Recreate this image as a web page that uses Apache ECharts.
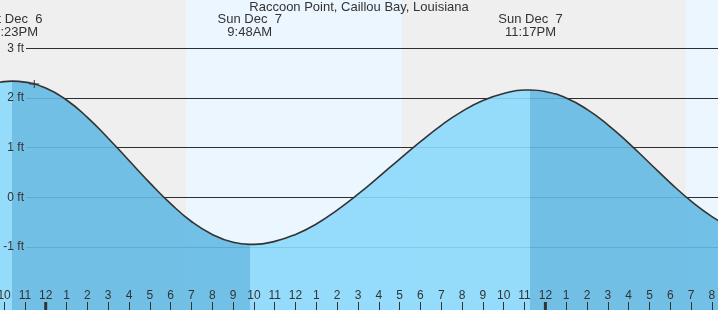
<!DOCTYPE html>
<html><head><meta charset="utf-8">
<script src="https://cdn.jsdelivr.net/npm/echarts@6/dist/echarts.min.js"></script>
<style>html,body{margin:0;padding:0;background:#efefef}#c{width:718px;height:310px}</style>
</head><body><div id="c"></div>
<script>
// ---- data (hours measured from midnight Sun Dec 7) ----
const stationName = 'Raccoon Point, Caillou Bay, Louisiana';
const hourlyTimes = [-3,-2,-1,0,1,2,3,4,5,6,7,8,9,10,11,12,13,14,15,16,17,18,19,20,21,22,23,24,25,26,27,28,29,30,31,32,33];
const hourlyFeet  = [2.25,2.33,2.32,2.20,1.96,1.61,1.19,0.74,0.29,-0.13,-0.49,-0.75,-0.91,-0.95,-0.89,-0.75,-0.54,-0.26,0.06,0.41,0.77,1.12,1.45,1.73,1.95,2.09,2.16,2.13,2.00,1.77,1.46,1.09,0.69,0.29,-0.08,-0.39,-0.63];
const extremeTimes = [-1.617, 9.8, 23.283];
const extremeFeet  = [2.34, -0.95, 2.16];
const extremeDates = ['Sat Dec  6', 'Sun Dec  7', 'Sun Dec  7'];
const extremeClock = ['10:23PM', '9:48AM', '11:17PM'];
const daylightStart = [6.74, 30.75];
const daylightEnd   = [17.11, 41];
const midnightTimes = [0, 24];
const feetTicks = [-1, 0, 1, 2, 3];
const nowTime = -0.55, nowFeet = 2.28;

// ---- build ----
const tideData = hourlyTimes.map((h, i) => [h, hourlyFeet[i]])
  .concat(extremeTimes.map((h, i) => [h, extremeFeet[i]]))
  .sort((a, b) => a[0] - b[0]);

const X_MIN = -3, X_MAX = 33;
const Y_MIN = -2.274, Y_MAX = 3.976;
const FALL = '#64bae4', RISE = '#8bd9fc';
const FONT = 'Liberation Sans';

const pieces = [];
let prev = -1000;
extremeTimes.forEach((t, i) => {
  const rising = extremeFeet[i] > 0;
  pieces.push({ gte: prev, lt: t, color: rising ? RISE : FALL });
  prev = t;
});
pieces.push({ gte: prev, lt: 1000, color: extremeFeet[extremeFeet.length - 1] > 0 ? FALL : RISE });

const chart = echarts.init(document.getElementById('c'), null, { renderer: 'canvas' });
chart.setOption({
  animation: false,
  backgroundColor: '#efefef',
  grid: [
    { left: -16.76, right: -14.76, top: 0, bottom: 0, containLabel: false, outerBoundsMode: 'none' },
    { left: 26, right: 0, top: 48.4, bottom: 63.2, containLabel: false, outerBoundsMode: 'none' }
  ],
  xAxis: [
    { type: 'value', gridIndex: 0, min: X_MIN, max: X_MAX, interval: 1, z: 5, position: 'bottom',
      axisLine: { show: false, onZero: false }, splitLine: { show: false },
      axisTick: { show: true, inside: true, length: 8, lineStyle: { color: '#333', width: 1 } },
      axisLabel: { inside: true, margin: 8, color: '#333', fontSize: 12, fontFamily: FONT,
        showMinLabel: true, showMaxLabel: true, hideOverlap: false,
        formatter: v => { const m = ((v % 12) + 12) % 12; return String(m === 0 ? 12 : m); } } },
    { type: 'value', gridIndex: 1, min: 0, max: 1, show: false }
  ],
  yAxis: [
    { type: 'value', gridIndex: 0, min: Y_MIN, max: Y_MAX, show: false },
    { type: 'value', gridIndex: 1, position: 'left', min: feetTicks[0], max: feetTicks[feetTicks.length - 1], interval: 1, z: 1,
      axisLine: { show: false, onZero: false }, axisTick: { show: false }, axisLabel: { show: false },
      splitLine: { show: true, lineStyle: { color: '#2e2e2e', width: 1 } } },
    { type: 'value', gridIndex: 1, position: 'left', offset: 0, min: feetTicks[0], max: feetTicks[feetTicks.length - 1], interval: 1, z: 5,
      axisLine: { show: false, onZero: false }, axisTick: { show: false }, splitLine: { show: false },
      axisLabel: { formatter: '{value} ft', color: '#333', fontSize: 12, fontFamily: FONT, margin: 2 } }
  ],
  visualMap: {
    type: 'piecewise', show: false, dimension: 0, seriesIndex: 1, pieces: pieces
  },
  series: [
    { type: 'custom', xAxisIndex: 0, yAxisIndex: 0, z: 0, clip: true, silent: true,
      encode: { x: [0, 1] },
      data: daylightStart.map((s, i) => [s, daylightEnd[i]]),
      renderItem: (params, api) => {
        const a = api.coord([api.value(0), Y_MAX]);
        const b = api.coord([api.value(1), Y_MIN]);
        return { type: 'rect', shape: { x: a[0], y: a[1], width: b[0] - a[0], height: b[1] - a[1] },
                 style: { fill: '#ecf6fe' } };
      } },
    { type: 'line', xAxisIndex: 0, yAxisIndex: 0, z: 2, data: tideData,
      smooth: true, showSymbol: false, silent: true,
      lineStyle: { color: '#333', width: 1.6 },
      areaStyle: { opacity: 0.9, origin: 'start' },
      markPoint: {
        silent: true,
        symbol: 'path://M0,3.5H10V4.5H0Z M4.5,0H5.5V8H4.5Z',
        symbolSize: [10, 8],
        itemStyle: { color: '#333' },
        label: { show: false },
        data: [{ coord: [nowTime, nowFeet] }]
      } },
    { type: 'custom', xAxisIndex: 0, yAxisIndex: 0, z: 6, clip: false, silent: true,
      data: midnightTimes.map(h => [h]),
      encode: { x: 0 },
      renderItem: (params, api) => {
        const p = api.coord([api.value(0), Y_MIN]);
        return { type: 'rect', shape: { x: p[0] - 1.5, y: p[1] - 8, width: 3, height: 8 },
                 style: { fill: '#333' } };
      } }
  ]
});

const texts = [{
  type: 'text', x: 359, y: 7.5, z: 10,
  style: { text: stationName, fill: '#333', font: '13px "Liberation Sans"', textAlign: 'center', textVerticalAlign: 'middle' }
}];
extremeTimes.forEach((t, i) => {
  const x = chart.convertToPixel({ xAxisIndex: 0 }, t);
  texts.push({ type: 'text', x: x, y: 19.5, z: 10,
    style: { text: extremeDates[i], fill: '#333', font: '13px "Liberation Sans"', textAlign: 'center', textVerticalAlign: 'middle' } });
  texts.push({ type: 'text', x: x, y: 32, z: 10,
    style: { text: extremeClock[i], fill: '#333', font: '13px "Liberation Sans"', textAlign: 'center', textVerticalAlign: 'middle' } });
});
chart.setOption({ graphic: texts });
</script>
</body></html>
